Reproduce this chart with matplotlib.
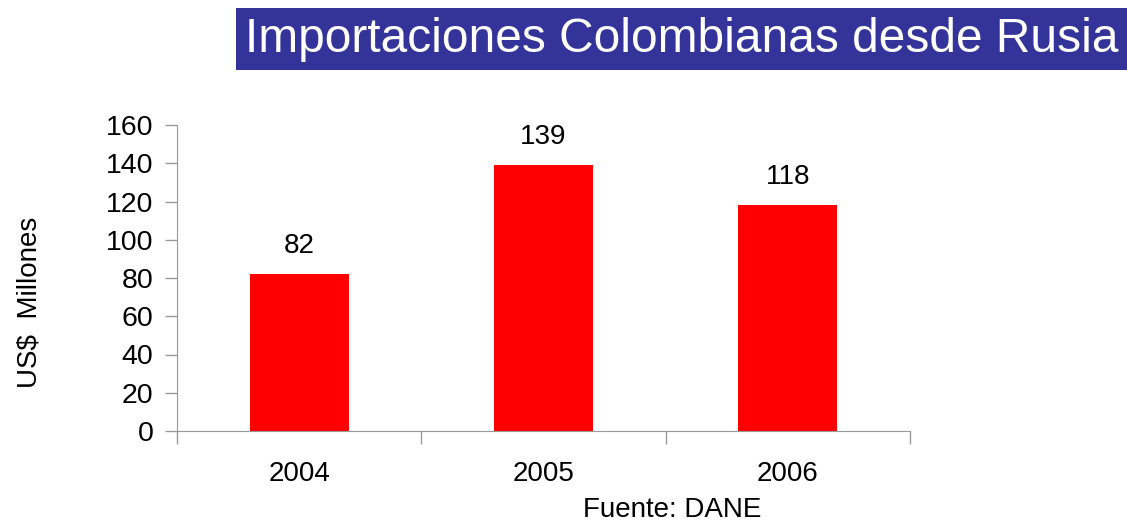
import matplotlib
matplotlib.use("Agg")
import matplotlib.pyplot as plt
from matplotlib.patches import Rectangle

years = ["2004", "2005", "2006"]
values = [82, 139, 118]
yticks = [0, 20, 40, 60, 80, 100, 120, 140, 160]

plt.rcParams['font.family'] = ['Liberation Sans', 'DejaVu Sans']

W, H = 1127, 525
fig = plt.figure(figsize=(W/100, H/100), dpi=100)

# title banner
fig.patches.append(Rectangle((236/W, 1 - 70/H), (W-236)/W, 62/H, transform=fig.transFigure,
                             facecolor='#333399', edgecolor='none'))
title = fig.text(682/W, 1 - 40/H, "Importaciones Colombianas desde Rusia", color='white',
                 fontsize=37, ha='center', va='center')
renderer = fig.canvas.get_renderer()
wpx = title.get_window_extent(renderer).width
title.set_fontsize(37 * 873 / wpx)

ax = fig.add_axes([177/W, 94/H, 733/W, 306/H])
x = list(range(len(years)))
ax.bar(x, values, width=0.405, color='#ff0000')
ax.set_xlim(-0.5, 2.5)
ax.set_ylim(0, 160)
ax.set_yticks(yticks)
ax.set_yticklabels([str(t) for t in yticks], fontsize=20.5)
ax.set_xticks([-0.5, 0.5, 1.5, 2.5])
ax.set_xticklabels([])
ax.tick_params(axis='x', direction='out', length=9, color='#999999', width=1)
ax.tick_params(axis='y', direction='out', length=9, color='#999999', width=1, pad=8)
for s in ['top', 'right']:
    ax.spines[s].set_visible(False)
for s in ['left', 'bottom']:
    ax.spines[s].set_color('#999999')
for xi, yr in zip(x, years):
    ax.text(xi, -22.5, yr, ha='center', va='center', fontsize=20)
for xi, v in zip(x, values):
    ax.annotate(str(v), (xi, v), xytext=(0, 28), textcoords='offset pixels',
                ha='center', va='center', fontsize=20)
fig.text(30/W, 1 - 302/H, "US$  Millones", fontsize=20, rotation=90, ha='center', va='center')
fig.text(672/W, 1 - 510/H, "Fuente: DANE", fontsize=20, ha='center', va='center')

fig.savefig("out.png", dpi=100)
